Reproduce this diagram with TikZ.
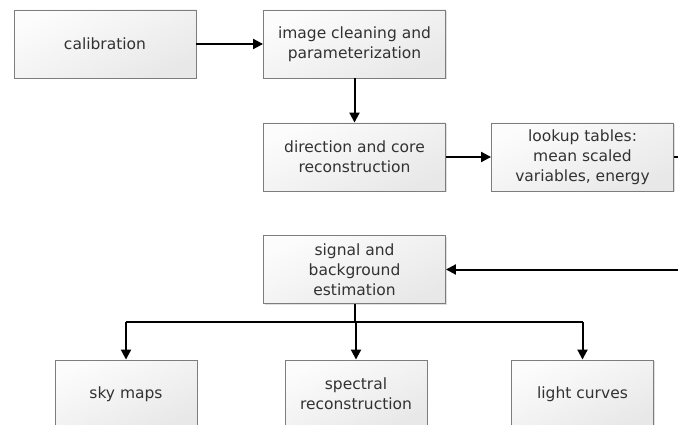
\documentclass[tikz,border=0pt]{standalone}
\usepackage{fontspec}
\setmainfont{DejaVu Sans}
\usetikzlibrary{arrows.meta,shadows}
\definecolor{boxline}{RGB}{125,125,125}
\definecolor{boxtop}{RGB}{252,252,252}
\definecolor{boxbot}{RGB}{232,232,232}
\definecolor{txt}{RGB}{50,50,50}
\begin{document}
\begin{tikzpicture}[x=1pt,y=-1pt,
  box/.style={rectangle, draw=boxline, line width=0.9pt,
    shading=axis, top color=boxtop, bottom color=boxbot, shading angle=25,
    drop shadow={shadow xshift=1pt, shadow yshift=-1.2pt, opacity=0.25},
    minimum width=182pt, minimum height=68pt, inner sep=0pt,
    align=center, text=txt, font=\fontsize{15.5}{20}\selectfont},
  outbox/.style={box, minimum width=142pt},
  link/.style={line width=2pt, black},
  arr/.style={link, -{Triangle[length=10pt,width=10pt]}}]
\useasboundingbox (0,0) rectangle (678,425);
\clip (0,0) rectangle (678,425);

% processing chain
\node[box] (cal) at (105,44) {calibration};
\node[box] (img) at (354.5,44) {image cleaning and\\parameterization};
\node[box] (dir) at (354.5,157) {direction and core\\reconstruction};
\node[box] (look) at (582.5,157) {lookup tables:\\mean scaled\\variables, energy};
\node[box] (sig) at (354.5,269.5) {signal and\\background\\estimation};

% science products
\node[outbox] (sky) at (126,394) {sky maps};
\node[outbox] (spec) at (356,394) {spectral\\reconstruction};
\node[outbox] (light) at (582.5,394) {light curves};

% loop back from the lookup tables, leaving the frame on the right
\coordinate (out1) at (690,157);
\coordinate (out2) at (690,269.5);
\coordinate (bus) at (0,322);

\draw[arr] (cal) -- (img);
\draw[arr] (img) -- (dir);
\draw[arr] (dir) -- (look);
\draw[link] (look.east) -- (out1);
\draw[arr] (out2) -- (sig.east);

\draw[link] (sig.south) -- (sig.south |- bus);
\draw[link] (bus -| sky.north) -- (bus -| light.north);
\draw[arr] (bus -| sky.north) -- (sky.north);
\draw[arr] (bus -| light.north) -- (light.north);
\draw[arr] (bus -| spec.north) -- (spec.north);
\end{tikzpicture}
\end{document}
